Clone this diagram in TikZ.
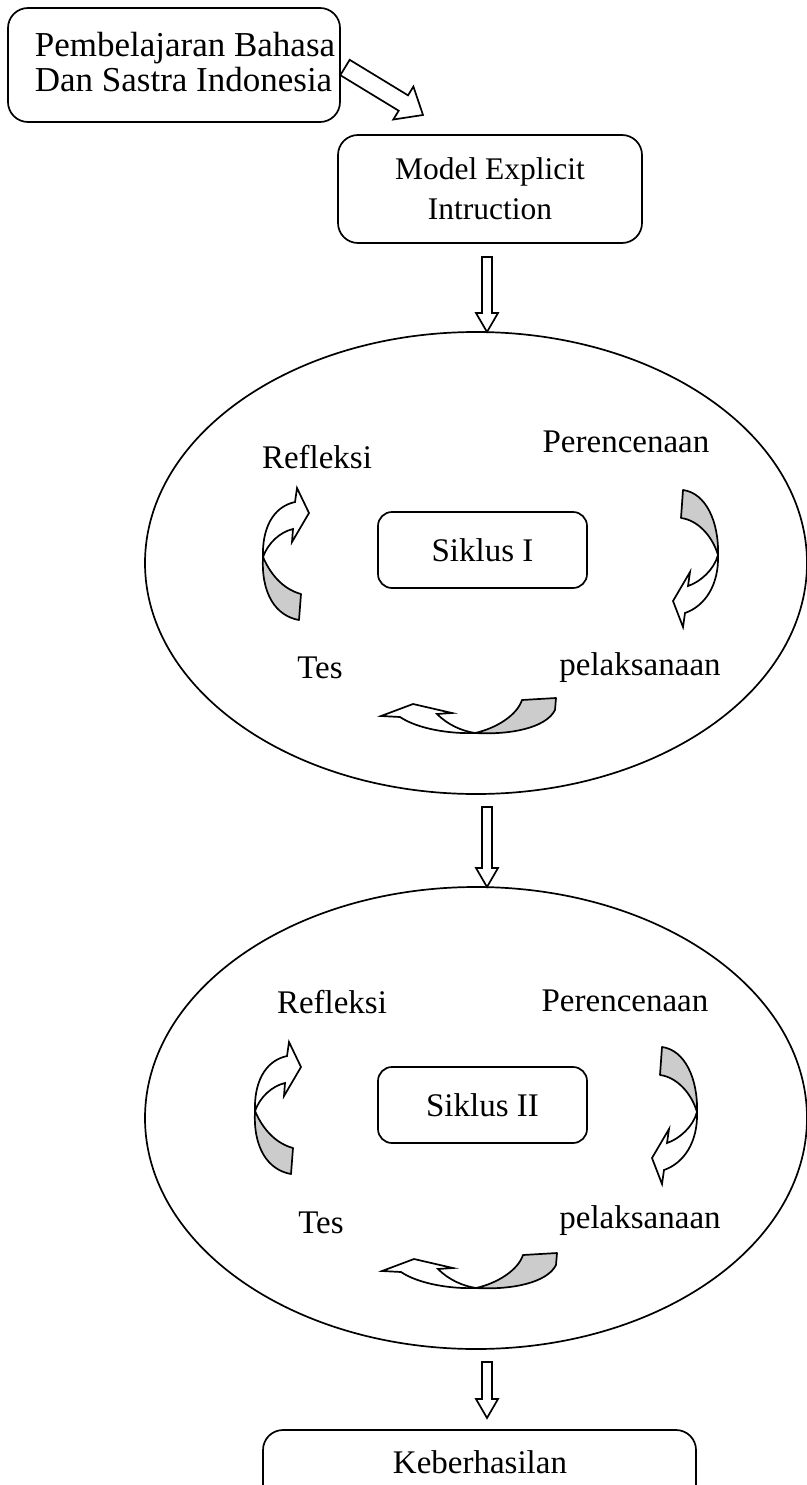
\documentclass[tikz,border=0pt]{standalone}
\usepackage{fontspec}
\setmainfont{Liberation Serif}
\usetikzlibrary{calc,shapes.geometric}
\newcommand{\blockarr}[5]{% start, end, shaft half, head half, head length
  \path ($(#2)!#5!(#1)$) coordinate (hb);
  \draw[blk] ($(#1)!#3!90:(#2)$) -- ($(hb)!#3!90:(#2)$) -- ($(hb)!#4!90:(#2)$)
    -- (#2) -- ($(hb)!#4!-90:(#2)$) -- ($(hb)!#3!-90:(#2)$) -- ($(#1)!#3!-90:(#2)$) -- cycle;}
\newcommand{\leftcurl}{%
  \draw[cband] (263,557) .. controls (272,578) and (286,590) .. (301,594) -- (299,620)
    .. controls (276,616) and (261,594) .. (263,557) -- cycle;
  \draw[wband] (263,557) .. controls (262,530) and (272,507) .. (295,502) -- (297,488)
    -- (309,513) -- (292,542) -- (293,529) .. controls (280,532) and (268,543) .. (263,557) -- cycle;}
\newcommand{\rightcurl}{%
  \draw[cband] (683,490) -- (681,518) .. controls (697,520) and (712,535) .. (718,555)
    .. controls (719,522) and (706,493) .. (683,490) -- cycle;
  \draw[wband] (718,555) .. controls (719,585) and (705,606) .. (685,613) -- (683,627)
    -- (673,601) -- (690,572) -- (688,586) .. controls (700,582) and (714,570) .. (718,555) -- cycle;}
\newcommand{\bottomcurl}{%
  \draw[cband] (475,733) .. controls (497,728) and (517,715) .. (522,700) -- (556,698) -- (555,710)
    .. controls (546,728) and (510,735) .. (475,733) -- cycle;
  \draw[wband] (475,733) .. controls (450,734) and (418,729) .. (400,717) -- (381,716)
    -- (413,704) -- (452,713) -- (437,714) .. controls (448,725) and (462,731) .. (475,733) -- cycle;}
\begin{document}
\begin{tikzpicture}[x=1pt,y=-1pt,line width=1.7pt,
  txt/.style={inner sep=0pt,font=\fontsize{33}{38}\selectfont},
  rbox/.style={draw,rounded corners=20pt,inner sep=0pt},
  sbox/.style={draw,rounded corners=14pt,inner sep=0pt,minimum width=209pt,minimum height=76pt,font=\fontsize{33}{38}\selectfont},
  oval/.style={draw,ellipse,inner sep=0pt,minimum width=662pt,minimum height=462pt},
  blk/.style={draw,fill=white,line join=miter},
  cband/.style={draw,fill=gray!40,line join=round},
  wband/.style={draw,fill=white,line join=miter}]
\useasboundingbox (0,0) rectangle (806,1485);
% top boxes
\node[rbox,minimum width=332pt,minimum height=114pt] (box1) at (174,65) {};
\node[txt,align=left,font=\fontsize{35}{35}\selectfont] (t1) at (185,62) {Pembelajaran Bahasa\\Dan Sastra Indonesia};
\node[rbox,minimum width=304pt,minimum height=108pt,align=center,font=\fontsize{31.5}{40}\selectfont] (box2) at (490,189) {Model Explicit\\Intruction};
% ellipses
\node[oval] (e1) at (476,563) {};
\node[oval] (e2) at (476,1118) {};
% inner boxes
\node[sbox] (s1) at (482.5,550) {Siklus I};
\node[sbox] (s2) at (482.5,1105) {Siklus II};
% final box
\node[rbox,minimum width=433pt,minimum height=90pt] (box3) at (479.5,1475) {};
\node[txt] (t3) at (480,1462) {Keberhasilan};
% labels ellipse 1
\node[txt] (r1) at (317,457) {Refleksi};
\node[txt] (p1) at (626,442) {Perencenaan};
\node[txt] (ts1) at (320,668) {Tes};
\node[txt] (pl1) at (640,668) {pelaksanaan};
% labels ellipse 2
\node[txt] (r2) at (332,1002) {Refleksi};
\node[txt] (p2) at (625,1001) {Perencenaan};
\node[txt] (ts2) at (321,1223) {Tes};
\node[txt] (pl2) at (640,1221) {pelaksanaan};
% block arrows
\coordinate (a0s) at (345,67.5); \coordinate (a0e) at (423,115);
\blockarr{a0s}{a0e}{9pt}{19.3pt}{23pt}
\coordinate (a1s) at (487,257); \coordinate (a1e) at (487,332);
\blockarr{a1s}{a1e}{5pt}{11pt}{19pt}
\coordinate (a2s) at (487,807); \coordinate (a2e) at (487,887);
\blockarr{a2s}{a2e}{5pt}{11pt}{19pt}
\coordinate (a3s) at (487,1362); \coordinate (a3e) at (487,1418);
\blockarr{a3s}{a3e}{5pt}{11pt}{19pt}
% curved arrows ellipse 1
\leftcurl \rightcurl \bottomcurl
% curved arrows ellipse 2
\begin{scope}[shift={(-8,554)}]\leftcurl\end{scope}
\begin{scope}[shift={(-21,557)}]\rightcurl\end{scope}
\begin{scope}[shift={(1,555)}]\bottomcurl\end{scope}
\end{tikzpicture}
\end{document}
